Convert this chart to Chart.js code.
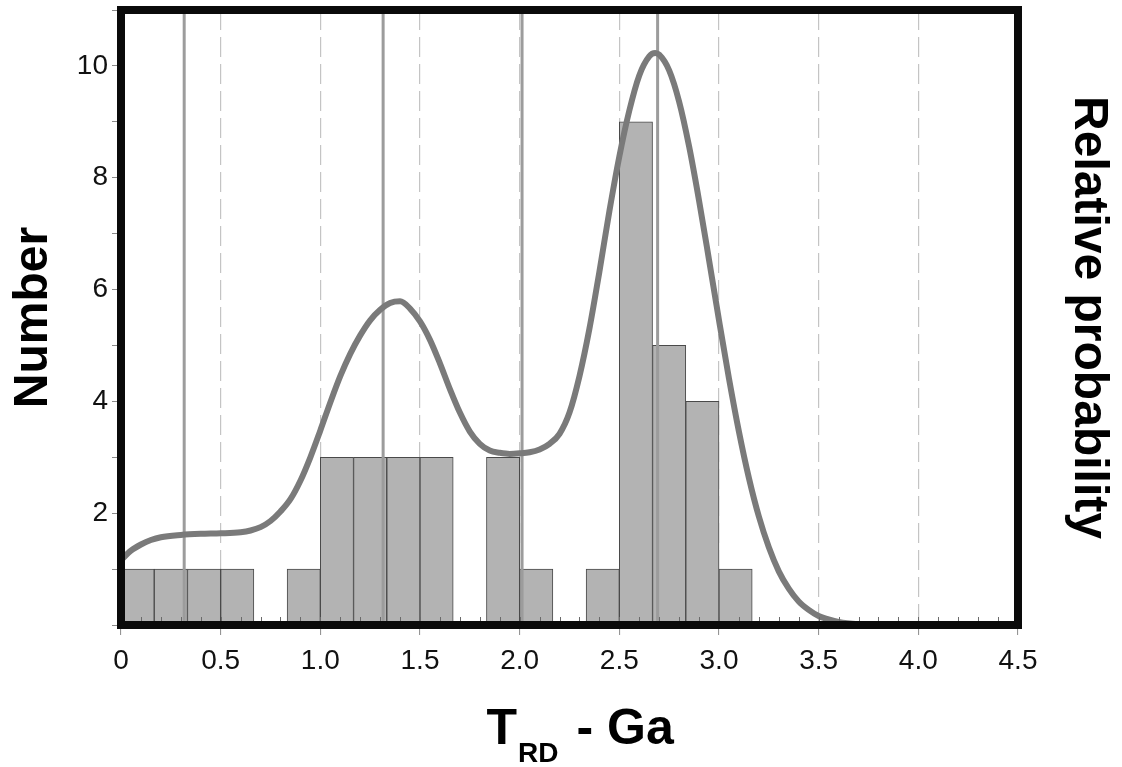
<!DOCTYPE html>
<html>
<head>
<meta charset="utf-8">
<script src="https://cdn.jsdelivr.net/npm/chart.js@4/dist/chart.umd.min.js"></script>
<style>
  html, body { margin: 0; padding: 0; background: #fff; }
  #wrap { width: 1122px; height: 767px; }
</style>
</head>
<body>
<div id="wrap"><canvas id="c" width="1122" height="767"></canvas></div>
<script>
// Histogram bins of T_RD model ages (Ga): bin centres and counts
const binCentres = [0.0833, 0.2500, 0.4167, 0.5833, 0.7500, 0.9167, 1.0833, 1.2500, 1.4167, 1.5833,
                    1.7500, 1.9167, 2.0833, 2.2500, 2.4167, 2.5833, 2.7500, 2.9167, 3.0833];
const binCounts  = [1, 1, 1, 1, 0, 1, 3, 3, 3, 3, 0, 3, 1, 0, 1, 9, 5, 4, 1];

// Age peaks marked by vertical lines (Ga)
const peakAges = [0.317, 1.315, 2.012, 2.692];

// Relative probability curve, in units of the count axis
const curveAges = [0.00, 0.05, 0.10, 0.15, 0.20, 0.30, 0.40, 0.50, 0.60, 0.65, 0.70, 0.75, 0.80, 0.85,
                   0.90, 0.95, 1.00, 1.05, 1.10, 1.15, 1.20, 1.25, 1.30, 1.35, 1.40, 1.45, 1.50, 1.55,
                   1.60, 1.65, 1.70, 1.75, 1.80, 1.85, 1.90, 1.95, 2.00, 2.05, 2.10, 2.15, 2.20, 2.25,
                   2.30, 2.35, 2.40, 2.45, 2.50, 2.55, 2.60, 2.65, 2.68, 2.70, 2.75, 2.80, 2.85, 2.90,
                   2.95, 3.00, 3.05, 3.10, 3.15, 3.20, 3.25, 3.30, 3.35, 3.40, 3.45, 3.50, 3.55, 3.60,
                   3.70, 3.80, 4.00, 4.50];
const curveProb = [1.16, 1.33, 1.44, 1.52, 1.57, 1.61, 1.63, 1.64, 1.66, 1.69, 1.75, 1.86, 2.03, 2.25,
                   2.58, 3.00, 3.48, 3.98, 4.45, 4.85, 5.18, 5.45, 5.64, 5.76, 5.79, 5.66, 5.43, 5.10,
                   4.68, 4.22, 3.80, 3.46, 3.24, 3.12, 3.08, 3.06, 3.07, 3.09, 3.14, 3.24, 3.42, 3.80,
                   4.45, 5.30, 6.32, 7.40, 8.38, 9.20, 9.83, 10.17, 10.23, 10.20, 9.92, 9.36, 8.56, 7.59,
                   6.53, 5.45, 4.41, 3.46, 2.63, 1.94, 1.39, 0.96, 0.65, 0.42, 0.27, 0.16, 0.10, 0.055,
                   0.015, 0.004, 0.00, 0.00];

// Axis tick labels
const xTickLabels = ['0', '0.5', '1.0', '1.5', '2.0', '2.5', '3.0', '3.5', '4.0', '4.5'];
const yTickLabels = ['', '', '2', '', '4', '', '6', '', '8', '', '10', ''];

const FONT = '"Liberation Sans", Arial, Helvetica, sans-serif';
Chart.defaults.font.family = FONT;
Chart.defaults.color = '#111';

// Thick frame, inner minor ticks and the subscripted x-axis title
const frameAndTitle = {
  id: 'frameAndTitle',
  afterDatasetsDraw(chart) {
    const { ctx, chartArea: a, scales: { x } } = chart;
    ctx.save();
    ctx.strokeStyle = '#6a6a6a';
    ctx.lineWidth = 1;
    for (let i = 1; i < 45; i++) {
      const px = Math.round(x.getPixelForValue(i / 10)) + 0.5;
      ctx.beginPath();
      ctx.moveTo(px, a.bottom);
      ctx.lineTo(px, a.bottom - 8);
      ctx.stroke();
    }
    ctx.lineWidth = 8;
    ctx.strokeStyle = '#0a0a0a';
    ctx.strokeRect(a.left, a.top, a.right - a.left, a.bottom - a.top);
    ctx.restore();
  },
  afterDraw(chart) {
    const { ctx, chartArea: a } = chart;
    const cx = (a.left + a.right) / 2;
    ctx.save();
    ctx.fillStyle = '#000';
    ctx.textAlign = 'left';
    ctx.textBaseline = 'alphabetic';
    let xx = cx - 83;
    ctx.font = 'bold 50px ' + FONT;
    ctx.fillText('T', xx, a.bottom + 119);
    xx += ctx.measureText('T').width + 1;
    ctx.font = 'bold 28px ' + FONT;
    ctx.fillText('RD', xx, a.bottom + 137);
    xx += ctx.measureText('RD').width + 18;
    ctx.font = 'bold 50px ' + FONT;
    ctx.fillText('- Ga', xx, a.bottom + 119);
    ctx.restore();
  }
};

const peakDatasets = peakAges.map(age => ({
  type: 'line',
  data: [{ x: age, y: 0 }, { x: age, y: 11 }],
  borderColor: '#9c9c9c',
  borderWidth: 3,
  pointRadius: 0,
  order: 1
}));

new Chart(document.getElementById('c'), {
  type: 'bar',
  data: {
    datasets: [
      {
        type: 'line',
        data: curveAges.map((a, i) => ({ x: a, y: curveProb[i] })),
        borderColor: '#7a7a7a',
        borderWidth: 6,
        pointRadius: 0,
        cubicInterpolationMode: 'monotone',
        order: 0
      },
      ...peakDatasets,
      {
        type: 'bar',
        data: binCentres.map((c, i) => ({ x: c, y: binCounts[i] })),
        backgroundColor: '#b3b3b3',
        borderColor: '#4a4a4a',
        borderWidth: 1,
        borderSkipped: false,
        categoryPercentage: 1,
        barPercentage: 1,
        order: 2
      }
    ]
  },
  options: {
    responsive: false,
    animation: false,
    layout: { padding: { top: 10, left: 0, right: 0, bottom: 0 } },
    plugins: { legend: { display: false }, tooltip: { enabled: false } },
    scales: {
      x: {
        type: 'linear',
        position: 'bottom',
        min: 0,
        max: 4.5,
        offset: false,
        afterFit(s) { s.height = 142; s.paddingLeft = 0; s.paddingRight = 0; },
        ticks: {
          stepSize: 0.5,
          autoSkip: false,
          maxRotation: 0,
          padding: 9,
          font: { size: 28 },
          color: '#111',
          callback: (v, i) => xTickLabels[i]
        },
        grid: {
          offset: false,
          color: '#c4c4c4',
          lineWidth: 1.2,
          tickColor: '#8a8a8a',
          tickLength: 10,
          tickWidth: 1
        },
        border: { display: false, dash: [20, 7] }
      },
      y: {
        position: 'left',
        min: 0,
        max: 11,
        afterFit(s) { s.width = 121; s.paddingTop = 0; s.paddingBottom = 0; },
        ticks: {
          stepSize: 1,
          autoSkip: false,
          padding: 4,
          font: { size: 28 },
          color: '#111',
          callback: v => yTickLabels[v]
        },
        grid: {
          drawOnChartArea: false,
          tickColor: '#8a8a8a',
          tickLength: 9,
          tickWidth: 1
        },
        border: { display: false },
        title: {
          display: true,
          text: 'Number',
          color: '#000',
          font: { size: 48, weight: 'bold' },
          padding: { top: 4.5, bottom: 0 }
        }
      },
      y2: {
        position: 'right',
        min: 0,
        max: 11,
        afterFit(s) { s.width = 104; s.paddingTop = 0; s.paddingBottom = 0; },
        ticks: { display: false },
        grid: { display: false },
        border: { display: false },
        title: {
          display: true,
          text: 'Relative probability',
          color: '#000',
          font: { size: 48, weight: 'bold' },
          padding: { top: 4.5, bottom: 0 }
        }
      }
    }
  },
  plugins: [frameAndTitle]
});
</script>
</body>
</html>
